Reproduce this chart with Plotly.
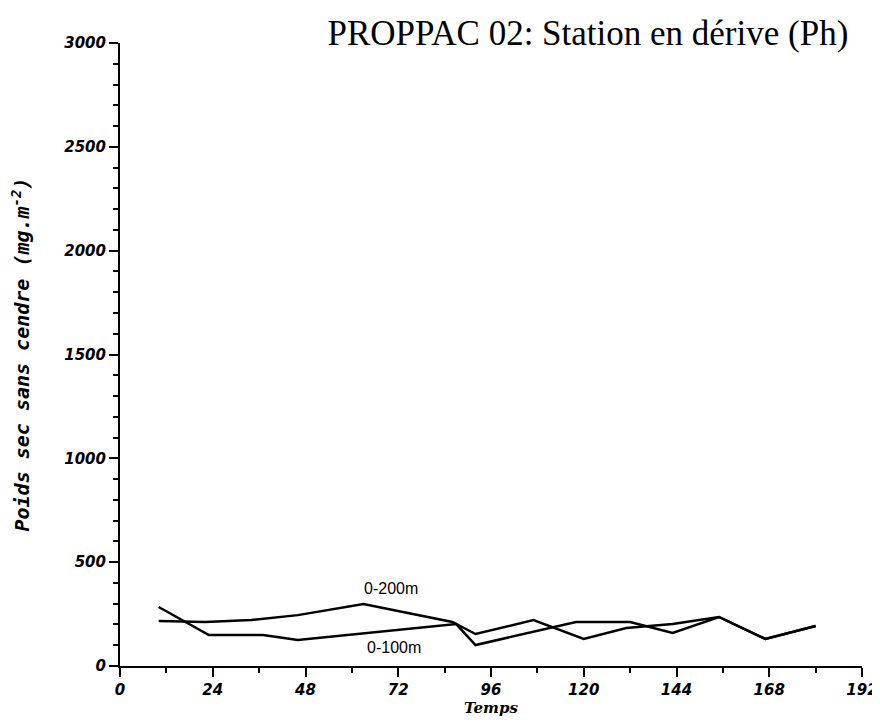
import plotly.graph_objects as go

# 0-200m
t_200 = [10, 22, 34, 46, 63, 86, 92, 107, 120, 131, 143, 155, 167, 180]
v_200 = [217, 212, 222, 245, 299, 212, 154, 221, 130, 183, 202, 236, 130, 193]

# 0-100m
t_100 = [10, 23, 37, 46, 87, 92, 118, 132, 143, 155, 167, 180]
v_100 = [284, 149, 149, 125, 202, 101, 212, 212, 159, 236, 130, 193]

x_ticks = [0, 24, 48, 72, 96, 120, 144, 168, 192]
y_ticks = [0, 500, 1000, 1500, 2000, 2500, 3000]

tick_font = dict(family="DejaVu Sans", size=15, color="black",
                 style="italic", weight="bold")

fig = go.Figure()

fig.add_trace(go.Scatter(x=t_200, y=v_200, mode="lines",
                         line=dict(color="black", width=2.5), name="0-200m"))
fig.add_trace(go.Scatter(x=t_100, y=v_100, mode="lines",
                         line=dict(color="black", width=2.5), name="0-100m"))

fig.add_annotation(x=70, y=375, text="0-200m", showarrow=False,
                   font=dict(family="Liberation Sans", size=16, color="black"))
fig.add_annotation(x=71, y=90, text="0-100m", showarrow=False,
                   font=dict(family="Liberation Sans", size=16, color="black"))

# the page body has an 8px margin, so the figure is a bit smaller than the window
fig.update_layout(
    width=872, height=718,
    margin=dict(l=112, r=18, t=35, b=60, autoexpand=False),
    paper_bgcolor="white", plot_bgcolor="white",
    showlegend=False,
    title=dict(text="PROPPAC 02: Station en dérive (Ph)",
               x=0.665, xanchor="center", y=0.965, yanchor="middle",
               font=dict(family="Liberation Serif", size=35, color="black")),
    xaxis=dict(
        range=[0, 192], tickvals=x_ticks, showgrid=False, zeroline=False,
        showline=True, linecolor="black", linewidth=2, automargin=False,
        ticks="outside", ticklen=9, tickwidth=2, tickcolor="black",
        minor=dict(dtick=12, ticks="outside", ticklen=5, tickwidth=1.5,
                   tickcolor="black", showgrid=False),
        tickfont=tick_font,
        title=dict(text="Temps", standoff=4,
                   font=dict(family="DejaVu Serif", size=15, color="black",
                             style="italic", weight="bold")),
    ),
    yaxis=dict(
        range=[0, 3000], tickvals=y_ticks, showgrid=False, zeroline=False,
        showline=True, linecolor="black", linewidth=2, automargin=False,
        ticks="outside", ticklen=9, tickwidth=2, tickcolor="black",
        minor=dict(dtick=100, ticks="outside", ticklen=5, tickwidth=1.5,
                   tickcolor="black", showgrid=False),
        tickfont=tick_font,
        title=dict(text="Poids sec sans cendre (mg.m<sup>-2</sup>)", standoff=36,
                   font=dict(family="DejaVu Sans Mono", size=20, color="black",
                             style="italic", weight="bold")),
    ),
)

fig.write_html("out.html")
